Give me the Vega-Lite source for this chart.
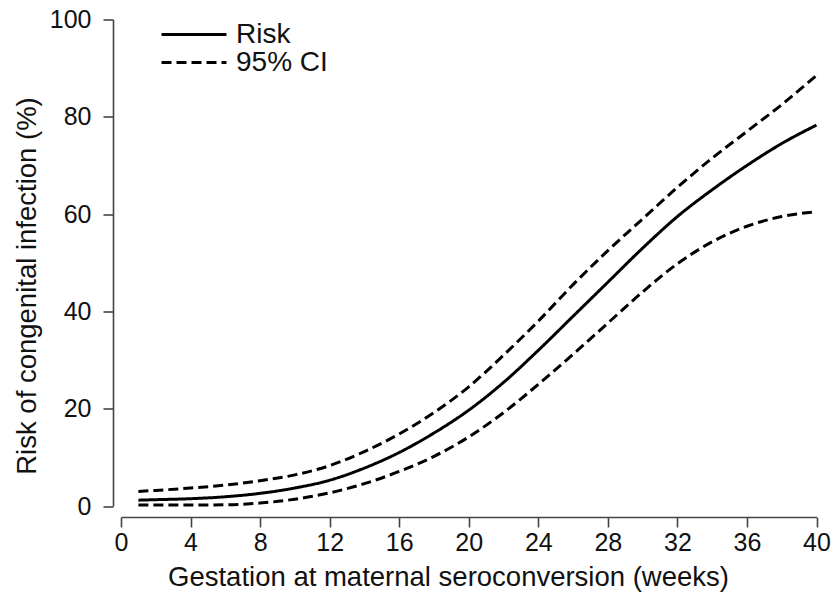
{
  "$schema": "https://vega.github.io/schema/vega-lite/v6.json",
  "autosize": "none",
  "width": 695.5,
  "height": 486.5,
  "padding": {"left": 121, "top": 19.5, "right": 16.5, "bottom": 88},
  "background": "white",
  "config": {
    "view": {"stroke": null},
    "font": "Liberation Sans",
    "axis": {"grid": false, "domainColor": "#444", "domainWidth": 1.6, "tickColor": "#444", "tickWidth": 1.6, "tickSize": 10, "labelFontSize": 25, "labelColor": "#111", "titleFontSize": 27.5, "titleFontWeight": "normal", "titleColor": "#111", "labelFont": "Liberation Sans", "titleFont": "Liberation Sans"}
  },
  "data": {"values": [
    {"week": 1, "value": 1.2, "type": "Risk", "curve": "risk"},
    {"week": 2, "value": 1.3, "type": "Risk", "curve": "risk"},
    {"week": 4, "value": 1.5, "type": "Risk", "curve": "risk"},
    {"week": 6, "value": 1.9, "type": "Risk", "curve": "risk"},
    {"week": 8, "value": 2.6, "type": "Risk", "curve": "risk"},
    {"week": 10, "value": 3.7, "type": "Risk", "curve": "risk"},
    {"week": 12, "value": 5.3, "type": "Risk", "curve": "risk"},
    {"week": 14, "value": 7.8, "type": "Risk", "curve": "risk"},
    {"week": 16, "value": 11.0, "type": "Risk", "curve": "risk"},
    {"week": 18, "value": 15.0, "type": "Risk", "curve": "risk"},
    {"week": 20, "value": 19.7, "type": "Risk", "curve": "risk"},
    {"week": 22, "value": 25.4, "type": "Risk", "curve": "risk"},
    {"week": 24, "value": 32.0, "type": "Risk", "curve": "risk"},
    {"week": 26, "value": 39.0, "type": "Risk", "curve": "risk"},
    {"week": 28, "value": 46.0, "type": "Risk", "curve": "risk"},
    {"week": 30, "value": 53.0, "type": "Risk", "curve": "risk"},
    {"week": 32, "value": 59.5, "type": "Risk", "curve": "risk"},
    {"week": 34, "value": 65.0, "type": "Risk", "curve": "risk"},
    {"week": 36, "value": 70.0, "type": "Risk", "curve": "risk"},
    {"week": 38, "value": 74.5, "type": "Risk", "curve": "risk"},
    {"week": 40, "value": 78.3, "type": "Risk", "curve": "risk"},
    {"week": 1, "value": 3.0, "type": "95% CI", "curve": "upper"},
    {"week": 2, "value": 3.2, "type": "95% CI", "curve": "upper"},
    {"week": 4, "value": 3.7, "type": "95% CI", "curve": "upper"},
    {"week": 6, "value": 4.3, "type": "95% CI", "curve": "upper"},
    {"week": 8, "value": 5.2, "type": "95% CI", "curve": "upper"},
    {"week": 10, "value": 6.4, "type": "95% CI", "curve": "upper"},
    {"week": 12, "value": 8.3, "type": "95% CI", "curve": "upper"},
    {"week": 14, "value": 11.2, "type": "95% CI", "curve": "upper"},
    {"week": 16, "value": 14.8, "type": "95% CI", "curve": "upper"},
    {"week": 18, "value": 19.2, "type": "95% CI", "curve": "upper"},
    {"week": 20, "value": 24.5, "type": "95% CI", "curve": "upper"},
    {"week": 22, "value": 31.0, "type": "95% CI", "curve": "upper"},
    {"week": 24, "value": 38.0, "type": "95% CI", "curve": "upper"},
    {"week": 26, "value": 45.5, "type": "95% CI", "curve": "upper"},
    {"week": 28, "value": 52.5, "type": "95% CI", "curve": "upper"},
    {"week": 30, "value": 59.0, "type": "95% CI", "curve": "upper"},
    {"week": 32, "value": 65.5, "type": "95% CI", "curve": "upper"},
    {"week": 34, "value": 71.5, "type": "95% CI", "curve": "upper"},
    {"week": 36, "value": 77.0, "type": "95% CI", "curve": "upper"},
    {"week": 38, "value": 82.5, "type": "95% CI", "curve": "upper"},
    {"week": 40, "value": 88.5, "type": "95% CI", "curve": "upper"},
    {"week": 1, "value": 0.2, "type": "95% CI", "curve": "lower"},
    {"week": 2, "value": 0.2, "type": "95% CI", "curve": "lower"},
    {"week": 4, "value": 0.2, "type": "95% CI", "curve": "lower"},
    {"week": 6, "value": 0.25, "type": "95% CI", "curve": "lower"},
    {"week": 8, "value": 0.6, "type": "95% CI", "curve": "lower"},
    {"week": 10, "value": 1.4, "type": "95% CI", "curve": "lower"},
    {"week": 12, "value": 2.7, "type": "95% CI", "curve": "lower"},
    {"week": 14, "value": 4.6, "type": "95% CI", "curve": "lower"},
    {"week": 16, "value": 7.1, "type": "95% CI", "curve": "lower"},
    {"week": 18, "value": 10.2, "type": "95% CI", "curve": "lower"},
    {"week": 20, "value": 14.2, "type": "95% CI", "curve": "lower"},
    {"week": 22, "value": 19.2, "type": "95% CI", "curve": "lower"},
    {"week": 24, "value": 25.0, "type": "95% CI", "curve": "lower"},
    {"week": 26, "value": 31.2, "type": "95% CI", "curve": "lower"},
    {"week": 28, "value": 37.6, "type": "95% CI", "curve": "lower"},
    {"week": 30, "value": 44.0, "type": "95% CI", "curve": "lower"},
    {"week": 32, "value": 49.8, "type": "95% CI", "curve": "lower"},
    {"week": 34, "value": 54.3, "type": "95% CI", "curve": "lower"},
    {"week": 36, "value": 57.5, "type": "95% CI", "curve": "lower"},
    {"week": 38, "value": 59.5, "type": "95% CI", "curve": "lower"},
    {"week": 40, "value": 60.5, "type": "95% CI", "curve": "lower"}
  ]},
  "mark": {"type": "line", "interpolate": "monotone", "strokeWidth": 3, "color": "black"},
  "encoding": {
    "x": {"field": "week", "type": "quantitative", "scale": {"domain": [0, 40], "nice": false, "zero": false},
      "axis": {"values": [0,4,8,12,16,20,24,28,32,36,40], "offset": 11, "title": "Gestation at maternal seroconversion (weeks)", "labelPadding": 3, "titlePadding": 8, "titleX": 327, "labelFlush": false}},
    "y": {"field": "value", "type": "quantitative", "scale": {"domain": [0, 100], "nice": false},
      "axis": {"values": [0,20,40,60,80,100], "offset": 8, "title": "Risk of congenital infection (%)", "labelPadding": 12, "titlePadding": 8, "titleY": 266}},
    "detail": {"field": "curve"},
    "strokeDash": {"field": "type", "type": "nominal",
      "scale": {"domain": ["Risk", "95% CI"], "range": [[1, 0], [10, 5]]},
      "legend": {"title": null, "orient": "none", "legendX": 59, "legendY": 1, "symbolType": "M-3,0H3", "symbolSize": 469, "symbolStrokeWidth": 3, "symbolStrokeColor": "black", "symbolFillColor": "transparent", "labelFontSize": 28, "labelColor": "#111", "labelOffset": 28, "rowPadding": -1, "labelFont": "Liberation Sans"}}
  }
}
